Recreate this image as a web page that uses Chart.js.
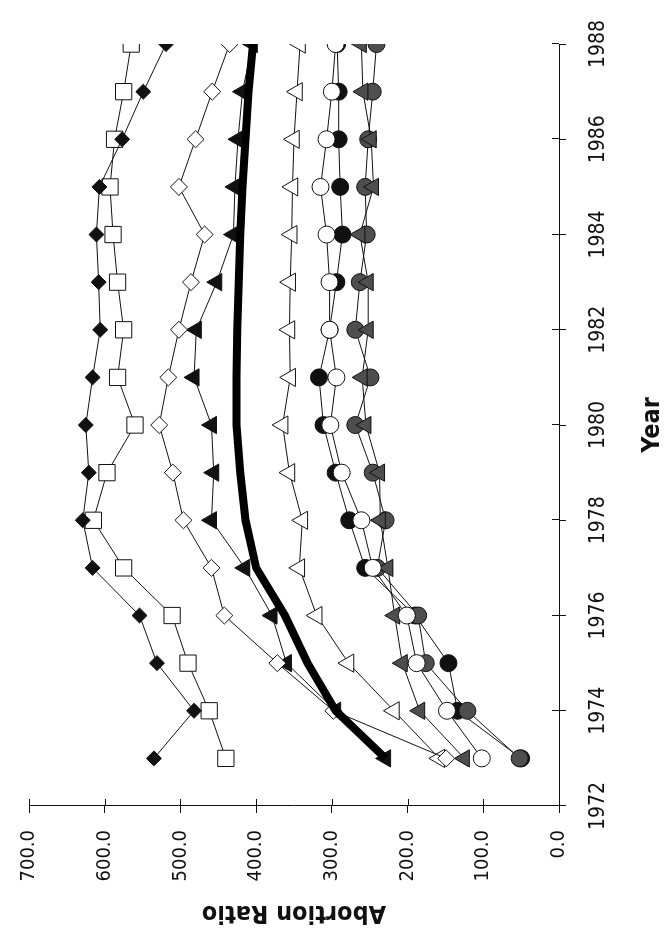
<!DOCTYPE html>
<html>
<head>
<meta charset="utf-8">
<title>Abortion Ratio by Year</title>
<script src="https://cdn.jsdelivr.net/npm/chart.js@4/dist/chart.umd.min.js"></script>
<style>
  html, body { margin: 0; padding: 0; background: #fff; }
  #wrap { position: absolute; left: 0; top: 0; width: 665px; height: 930px; overflow: hidden; }
  /* the scanned figure is the chart turned a quarter turn counter-clockwise */
  #chart { position: absolute; left: 0; top: 0; transform-origin: 0 0; transform: translate(0, 930px) rotate(-90deg); }
</style>
</head>
<body>
<div id="wrap"><canvas id="chart" width="930" height="665"></canvas></div>
<script>
(function () {
  'use strict';

  const years = [1973, 1974, 1975, 1976, 1977, 1978, 1979, 1980, 1981, 1982, 1983, 1984, 1985, 1986, 1987, 1988];

  const filledDiamond = [535, 482, 531, 554, 616, 629, 621, 625, 616, 606, 608, 611, 607, 577, 549, 519];
  const openSquare    = [440, 462, 490, 511, 575, 615, 597, 560, 583, 575, 583, 589, 593, 587, 575, 565];
  const openDiamond   = [149, 298, 372, 442, 459, 496, 510, 528, 516, 502, 486, 468, 502, 480, 458, 435];
  const filledTri     = [229, 295, 360, 379, 415, 459, 456, 459, 482, 479, 452, 430, 428, 424, 418, 405];
  const overall       = [229, 295, 332, 362, 400, 414, 421, 426, 426, 425, 423, 421, 418, 414, 410, 404];
  const openTri       = [158, 218, 278, 320, 343, 339, 356, 365, 355, 356, 355, 353, 352, 350, 346, 342];
  const openCircle    = [102, 148, 188, 201, 246, 261, 287, 302, 294, 303, 303, 307, 315, 307, 300, 295];
  const grayCircle    = [52, 121, 176, 186, 240, 229, 246, 269, 249, 269, 263, 254, 256, 252, 246, 241];
  const grayTri       = [125, 184, 207, 217, 226, 236, 237, 255, 260, 252, 252, 263, 245, 248, 259, 261];
  const filledCircle  = [50, 134, 146, 190, 256, 277, 295, 311, 317, 303, 294, 286, 289, 291, 291, 293];

  const yearTicks = [1972, 1974, 1976, 1978, 1980, 1982, 1984, 1986, 1988];
  const ratioTicks = [0, 100, 200, 300, 400, 500, 600, 700];

  const FONT = "'Liberation Sans Narrow', 'Arial Narrow', 'Nimbus Sans Narrow', 'DejaVu Sans Condensed', sans-serif";
  const INK = '#111';
  const GRAY = '#4e4e4e';

  function pts(values) {
    return values.map((v, i) => ({ x: years[i], y: v }));
  }

  function series(label, values, style, radius, fill) {
    return {
      label,
      data: pts(values),
      borderColor: INK,
      borderWidth: 1,
      pointStyle: style,
      pointRadius: radius,
      pointBackgroundColor: fill,
      pointBorderColor: INK,
      pointBorderWidth: 1,
      tension: 0,
      fill: false,
    };
  }

  // draws the half of each tick mark that sits inside the plot
  const innerTicks = {
    id: 'innerTicks',
    afterDraw(chart) {
      const { ctx, chartArea, scales } = chart;
      ctx.save();
      ctx.strokeStyle = INK;
      ctx.lineWidth = 1;
      ctx.beginPath();
      scales.x.ticks.forEach((t, i) => {
        const px = Math.round(scales.x.getPixelForTick(i)) + 0.5;
        ctx.moveTo(px, chartArea.bottom);
        ctx.lineTo(px, chartArea.bottom - 7);
      });
      scales.y.ticks.forEach((t, i) => {
        const py = Math.round(scales.y.getPixelForTick(i)) + 0.5;
        ctx.moveTo(chartArea.left, py);
        ctx.lineTo(chartArea.left + 7, py);
      });
      ctx.stroke();
      ctx.restore();
    },
  };

  const datasets = [
    series('Filled circle', filledCircle, 'circle', 8.5, INK),
    series('Gray circle', grayCircle, 'circle', 8.5, GRAY),
    series('Gray triangle', grayTri, 'triangle', 10, GRAY),
    series('Open circle', openCircle, 'circle', 8.5, '#fff'),
    series('Open triangle', openTri, 'triangle', 10.5, '#fff'),
    series('Filled triangle', filledTri, 'triangle', 10, INK),
    series('Open diamond', openDiamond, 'rectRot', 8.5, '#fff'),
    series('Open square', openSquare, 'rect', 11.5, '#fff'),
    series('Filled diamond', filledDiamond, 'rectRot', 7.5, INK),
    {
      label: 'All',
      data: pts(overall),
      borderColor: '#000',
      borderWidth: 8,
      pointRadius: 0,
      tension: 0,
      fill: false,
    },
  ];
  // first dataset is painted last
  datasets.reverse();

  new Chart(document.getElementById('chart'), {
    type: 'line',
    data: { datasets },
    plugins: [innerTicks],
    options: {
      responsive: false,
      animation: false,
      layout: { padding: { left: 0, right: 27, top: 19, bottom: 0 } },
      plugins: {
        legend: { display: false },
        tooltip: { enabled: false },
      },
      scales: {
        x: {
          type: 'linear',
          position: 'bottom',
          min: yearTicks[0],
          max: yearTicks[yearTicks.length - 1],
          afterBuildTicks(scale) {
            scale.ticks = yearTicks.map((v) => ({ value: v }));
          },
          afterFit(scale) {
            scale.height = 106;
          },
          grid: { drawOnChartArea: false, tickLength: 7, color: INK },
          border: { display: true, color: INK, width: 1 },
          ticks: {
            autoSkip: false,
            maxRotation: 0,
            padding: 20,
            color: INK,
            font: { family: FONT, size: 21 },
            callback: (v) => String(v),
          },
          title: {
            display: true,
            text: 'Year',
            color: INK,
            font: { family: FONT, size: 25, weight: 'bold', lineHeight: 1 },
            padding: { top: 0, bottom: 0 },
          },
        },
        y: {
          type: 'linear',
          position: 'left',
          min: ratioTicks[0],
          max: ratioTicks[ratioTicks.length - 1],
          afterBuildTicks(scale) {
            scale.ticks = ratioTicks.map((v) => ({ value: v }));
          },
          afterFit(scale) {
            scale.width = 124;
          },
          grid: { drawOnChartArea: false, tickLength: 7, color: INK },
          border: { display: true, color: INK, width: 1 },
          ticks: {
            padding: 17,
            color: INK,
            font: { family: FONT, size: 20 },
            callback: (v) => Number(v).toFixed(1),
          },
          title: {
            display: true,
            text: 'Abortion Ratio',
            color: INK,
            font: { family: FONT, size: 25, weight: 'bold', lineHeight: 1 },
            padding: { top: 5, bottom: 0 },
          },
        },
      },
    },
  });
})();
</script>
</body>
</html>
